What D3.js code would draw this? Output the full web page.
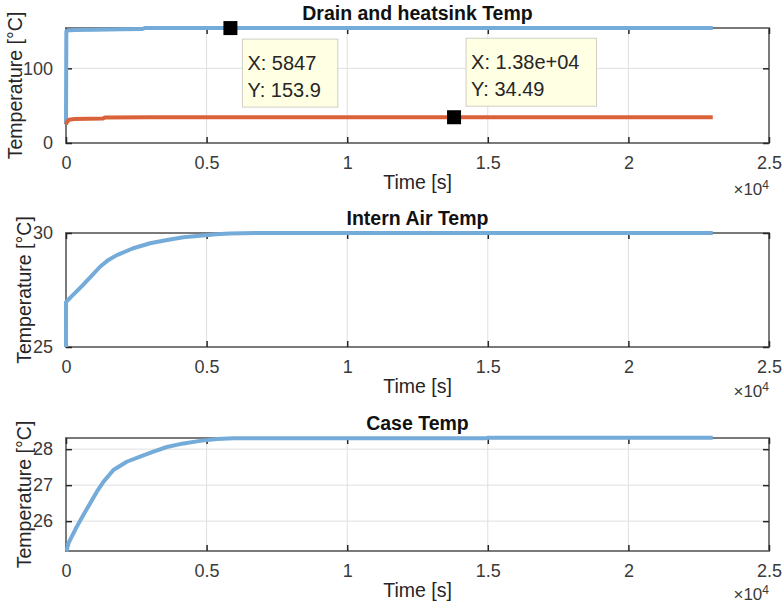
<!DOCTYPE html>
<html><head><meta charset="utf-8">
<script src="https://cdn.jsdelivr.net/npm/d3@7"></script>
<style>
body{margin:0;background:#fff}
svg{display:block}
text{font-family:"Liberation Sans",Arial,Helvetica,sans-serif}
</style>
</head><body>
<svg id="chart" width="784" height="610"></svg>
<script>
// ---------- data ----------
const xTicks = [0, 5000, 10000, 15000, 20000, 25000];
const xTickLabels = ["0", "0.5", "1", "1.5", "2", "2.5"];

const drainTime = [0, 12, 40, 300, 1000, 2000, 2700, 2800, 5847, 23000];
const drainTemp = [25, 149.5, 150.5, 151.2, 151.8, 152.3, 152.6, 153.9, 153.9, 153.9];

const heatsinkTime = [0, 30, 100, 300, 1300, 1400, 3000, 13800, 23000];
const heatsinkTemp = [25, 28, 31, 32, 32.8, 34.2, 34.49, 34.49, 34.49];

const airTime = [0, 1, 180, 605, 900, 1210, 1510, 1810, 2390, 2990, 3600, 4170, 4760, 5350, 5820, 7000, 23000];
const airTemp = [25, 26.97, 27.2, 27.72, 28.11, 28.52, 28.82, 29.03, 29.33, 29.55, 29.69, 29.81, 29.88, 29.94, 29.98, 30.0, 30.0];

const caseTime = [0, 24, 85, 200, 380, 617, 855, 1092, 1330, 1686, 2160, 2635, 3110, 3585, 4180, 4770, 5370, 5950, 14900, 15000, 23000];
const caseTemp = [25.17, 25.19, 25.38, 25.56, 25.84, 26.17, 26.49, 26.81, 27.09, 27.42, 27.65, 27.79, 27.93, 28.06, 28.16, 28.23, 28.28, 28.30, 28.30, 28.315, 28.315];

const titles = ["Drain and heatsink Temp", "Intern Air Temp", "Case Temp"];
const yDomains = [[0, 154], [25, 30], [25.17, 28.31]];
const yTickSets = [[0, 100], [25, 30], [26, 27, 28]];
const yLabel = "Temperature [°C]";
const xLabel = "Time [s]";

const tipX = [5847, 13800];
const tipY = [153.9, 34.49];
const tipText = [["X: 5847", "Y: 153.9"], ["X: 1.38e+04", "Y: 34.49"]];

// ---------- layout ----------
const svg = d3.select("#chart");
const left = 66, right = 769;
const panels = [
  {top: 28, bottom: 143, ylabX: 15, expOff: 52},
  {top: 233, bottom: 347, ylabX: 24, expOff: 50},
  {top: 438, bottom: 551, ylabX: 24, expOff: 49}
];
const blue = "#74abd9", orange = "#d9623a";
const textCol = "#262626";

const x = d3.scaleLinear().domain([0, 25000]).range([left, right]);

const seriesByPanel = [
  [{t: drainTime, v: drainTemp, c: blue}, {t: heatsinkTime, v: heatsinkTemp, c: orange}],
  [{t: airTime, v: airTemp, c: blue}],
  [{t: caseTime, v: caseTemp, c: blue}]
];

const scales = [];
panels.forEach((p, i) => {
  const y = d3.scaleLinear().domain(yDomains[i]).range([p.bottom, p.top]);
  scales.push(y);
  const g = svg.append("g");
  const h = p.bottom - p.top;

  // grid
  const grid = g.append("g").attr("stroke", "#dfdfdf").attr("stroke-width", 1);
  xTicks.forEach(t => {
    if (t > 0 && t < 25000) grid.append("line").attr("x1", x(t)).attr("x2", x(t)).attr("y1", p.top).attr("y2", p.bottom);
  });
  yTickSets[i].forEach(t => {
    const yy = y(t);
    if (yy > p.top + 1 && yy < p.bottom - 1) grid.append("line").attr("x1", left).attr("x2", right).attr("y1", yy).attr("y2", yy);
  });

  // box
  g.append("rect").attr("x", left).attr("y", p.top).attr("width", right - left).attr("height", h)
    .attr("fill", "none").attr("stroke", "#7a7a7a").attr("stroke-width", 2);

  // ticks via d3 axes (inside, both sides)
  const tl = 6;
  const xb = d3.axisBottom(x).tickValues(xTicks).tickFormat((d, k) => xTickLabels[k]).tickSizeInner(-tl).tickSizeOuter(0).tickPadding(tl + 7);
  const xt = d3.axisTop(x).tickValues(xTicks).tickFormat("").tickSizeInner(-tl).tickSizeOuter(0);
  const yl = d3.axisLeft(y).tickValues(yTickSets[i]).tickFormat(d3.format("d")).tickSizeInner(-tl).tickSizeOuter(0).tickPadding(tl + 7);
  const yr = d3.axisRight(y).tickValues(yTickSets[i]).tickFormat("").tickSizeInner(-tl).tickSizeOuter(0);
  const styleAxis = (sel) => {
    sel.select(".domain").remove();
    sel.selectAll(".tick line").attr("stroke", "#262626").attr("stroke-width", 1.5);
    sel.selectAll(".tick text").attr("fill", "#3a3a3a").style("font-size", "18px").style("font-family", '"Liberation Sans",Arial,sans-serif');
  };
  g.append("g").attr("transform", `translate(0,${p.bottom})`).call(xb).call(styleAxis)
    .selectAll(".tick text").attr("dy", "0.71em");
  g.append("g").attr("transform", `translate(0,${p.top})`).call(xt).call(styleAxis);
  g.append("g").attr("transform", `translate(${left},0)`).call(yl).call(styleAxis);
  g.append("g").attr("transform", `translate(${right},0)`).call(yr).call(styleAxis);

  // lines
  const line = d3.line().x(d => x(d[0])).y(d => y(d[1]));
  seriesByPanel[i].forEach(s => {
    const pts = s.t.map((t, k) => [t, s.v[k]]);
    g.append("path").attr("d", line(pts)).attr("fill", "none").attr("stroke", s.c)
      .attr("stroke-width", 4).attr("stroke-linejoin", "round");
  });

  // title
  g.append("text").attr("x", (left + right) / 2).attr("y", p.top - 8).attr("text-anchor", "middle")
    .attr("fill", "#111").style("font-weight", "bold").style("font-size", "19.5px").text(titles[i]);

  // x label
  g.append("text").attr("x", (left + right) / 2).attr("y", p.bottom + 46).attr("text-anchor", "middle")
    .attr("fill", textCol).style("font-size", "19.5px").text(xLabel);

  // exponent
  const ex = g.append("text").attr("x", right).attr("y", p.bottom + p.expOff).attr("text-anchor", "end")
    .attr("fill", "#3a3a3a").style("font-size", "17px");
  ex.append("tspan").text("\u00d710");
  ex.append("tspan").attr("dy", -6).style("font-size", "12px").text("4");

  // y label
  g.append("text").attr("transform", `translate(${p.ylabX},${(p.top + p.bottom) / 2}) rotate(-90)`)
    .attr("text-anchor", "middle").attr("dy", "0.35em").attr("fill", textCol).style("font-size", "19.5px").text(yLabel);
});

// ---------- data tips ----------
const y0 = scales[0];
tipX.forEach((tx, k) => {
  const mx = x(tx), my = y0(tipY[k]);
  const g = svg.append("g");
  const tg = g.append("g");
  const txt = tg.append("text").attr("fill", textCol).style("font-size", "20px");
  tipText[k].forEach((s, j) => txt.append("tspan").attr("x", 0).attr("y", j === 0 ? 0 : 27).text(s));
  const w = Math.max(...txt.selectAll("tspan").nodes().map(n => n.getComputedTextLength())) + 22;
  const hgt = 68;
  const bx = mx + 12;
  const by = k === 0 ? my + 11 : my - 11 - hgt;
  tg.insert("rect", "text").attr("x", bx).attr("y", by).attr("width", w).attr("height", hgt)
    .attr("fill", "#ffffe4").attr("stroke", "#cfcfc4").attr("stroke-width", 1);
  txt.attr("transform", `translate(${bx + 5},${by + 31})`);
  g.append("rect").attr("x", mx - 7).attr("y", my - 7).attr("width", 14).attr("height", 14).attr("fill", "#000");
});
</script>
</body></html>
